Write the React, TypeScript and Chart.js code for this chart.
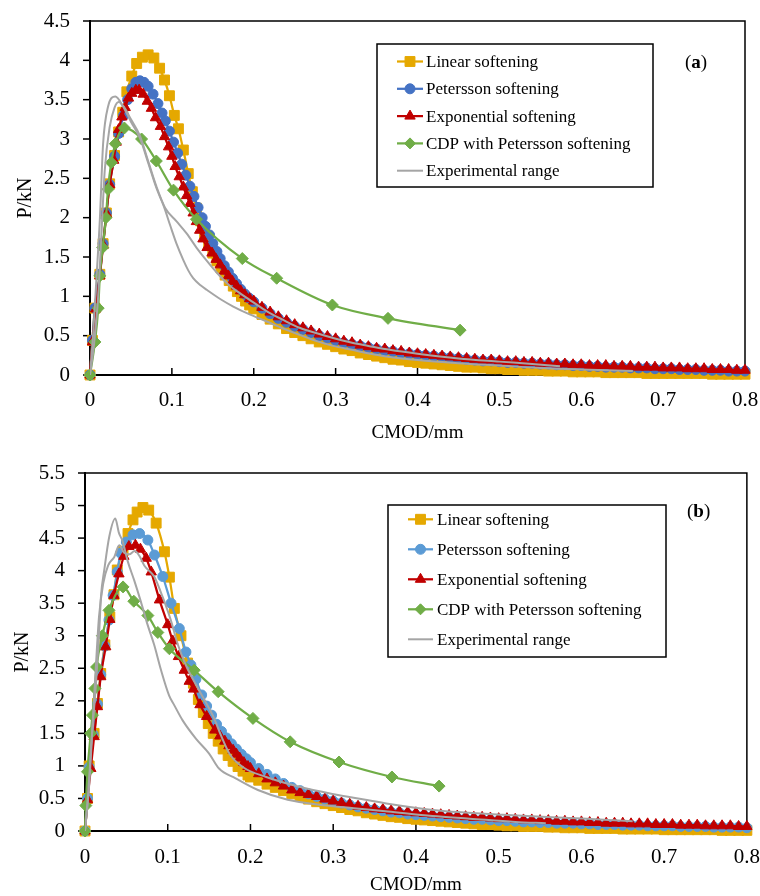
import React, { useEffect, useRef } from "react";
import { Chart, registerables } from "chart.js";

Chart.register(...registerables);

const FONT = '"Liberation Serif", "Times New Roman", serif';

const LABELS = [
  "Linear softening",
  "Petersson softening",
  "Exponential softening",
  "CDP with Petersson softening",
  "Experimental range",
];

const X_TICKS_MAX = 0.8;

// Shared CMOD values for the long tail of the FE curves (mm)
const TAIL_CMOD = [
  0.20, 0.21, 0.22, 0.23, 0.24, 0.25, 0.26, 0.27, 0.28, 0.29,
  0.30, 0.31, 0.32, 0.33, 0.34, 0.35, 0.36, 0.37, 0.38, 0.39,
  0.40, 0.41, 0.42, 0.43, 0.44, 0.45, 0.46, 0.47, 0.48, 0.49,
  0.50, 0.51, 0.52, 0.53, 0.54, 0.55, 0.56, 0.57, 0.58, 0.59,
  0.60, 0.61, 0.62, 0.63, 0.64, 0.65, 0.66, 0.67, 0.68, 0.69,
  0.70, 0.71, 0.72, 0.73, 0.74, 0.75, 0.76, 0.77, 0.78, 0.79,
  0.80,
];

// ---------------- Panel (a) ----------------
const A_LIN_CMOD = [0, 0.003, 0.006, 0.012, 0.016, 0.020, 0.024, 0.030, 0.035, 0.040, 0.045, 0.051, 0.057, 0.064, 0.071, 0.078, 0.085, 0.091, 0.097, 0.103, 0.108, 0.114, 0.120, 0.125, 0.130, 0.135, 0.140, 0.145, 0.150, 0.155, 0.160, 0.165, 0.170, 0.175, 0.180, 0.185, 0.190, 0.195];
const A_LIN_P = [0, 0.44, 0.85, 1.28, 1.67, 2.06, 2.43, 2.79, 3.09, 3.34, 3.60, 3.80, 3.96, 4.04, 4.07, 4.03, 3.90, 3.75, 3.55, 3.30, 3.13, 2.86, 2.56, 2.33, 2.12, 1.96, 1.80, 1.66, 1.55, 1.45, 1.36, 1.27, 1.20, 1.13, 1.06, 1.00, 0.94, 0.89];
const A_LIN_TAIL = [0.84, 0.77, 0.71, 0.65, 0.59, 0.54, 0.50, 0.46, 0.42, 0.39, 0.36, 0.33, 0.31, 0.28, 0.26, 0.24, 0.22, 0.20, 0.19, 0.17, 0.16, 0.15, 0.14, 0.13, 0.12, 0.11, 0.10, 0.10, 0.09, 0.08, 0.08, 0.07, 0.07, 0.06, 0.06, 0.06, 0.05, 0.05, 0.05, 0.04, 0.04, 0.04, 0.04, 0.03, 0.03, 0.03, 0.03, 0.03, 0.02, 0.02, 0.02, 0.02, 0.02, 0.02, 0.02, 0.02, 0.01, 0.01, 0.01, 0.01, 0.01];

const A_PET_CMOD = [0, 0.003, 0.006, 0.012, 0.016, 0.020, 0.024, 0.030, 0.035, 0.041, 0.046, 0.051, 0.056, 0.061, 0.066, 0.071, 0.077, 0.083, 0.088, 0.092, 0.097, 0.102, 0.107, 0.112, 0.117, 0.122, 0.127, 0.132, 0.137, 0.141, 0.146, 0.150, 0.155, 0.159, 0.164, 0.169, 0.174, 0.179, 0.184, 0.189, 0.194];
const A_PET_P = [0, 0.44, 0.85, 1.28, 1.67, 2.06, 2.42, 2.78, 3.07, 3.30, 3.50, 3.64, 3.72, 3.74, 3.72, 3.67, 3.57, 3.45, 3.33, 3.23, 3.10, 2.96, 2.82, 2.68, 2.54, 2.40, 2.27, 2.13, 2.00, 1.89, 1.78, 1.67, 1.57, 1.48, 1.39, 1.31, 1.23, 1.16, 1.09, 1.03, 0.98];
const A_PET_TAIL = [0.93, 0.85, 0.78, 0.72, 0.67, 0.62, 0.58, 0.54, 0.50, 0.47, 0.44, 0.41, 0.39, 0.37, 0.35, 0.33, 0.31, 0.30, 0.28, 0.27, 0.26, 0.25, 0.24, 0.23, 0.22, 0.21, 0.20, 0.19, 0.18, 0.18, 0.17, 0.16, 0.16, 0.15, 0.15, 0.14, 0.14, 0.13, 0.13, 0.12, 0.12, 0.11, 0.11, 0.10, 0.10, 0.10, 0.09, 0.09, 0.09, 0.08, 0.08, 0.08, 0.07, 0.07, 0.07, 0.06, 0.06, 0.06, 0.05, 0.05, 0.05];

const A_EXP_CMOD = [0, 0.003, 0.007, 0.012, 0.016, 0.020, 0.024, 0.029, 0.032, 0.035, 0.039, 0.043, 0.047, 0.051, 0.056, 0.060, 0.065, 0.070, 0.075, 0.080, 0.086, 0.091, 0.096, 0.100, 0.104, 0.109, 0.114, 0.118, 0.122, 0.126, 0.130, 0.134, 0.138, 0.143, 0.149, 0.154, 0.159, 0.164, 0.169, 0.174, 0.179, 0.184, 0.189, 0.195];
const A_EXP_P = [0, 0.42, 0.84, 1.26, 1.65, 2.05, 2.42, 2.73, 2.96, 3.12, 3.28, 3.40, 3.52, 3.58, 3.62, 3.62, 3.57, 3.48, 3.39, 3.27, 3.16, 3.03, 2.90, 2.78, 2.65, 2.52, 2.39, 2.28, 2.18, 2.06, 1.95, 1.84, 1.73, 1.62, 1.55, 1.47, 1.40, 1.32, 1.26, 1.19, 1.13, 1.07, 1.02, 0.97];
const A_EXP_TAIL = [0.94, 0.86, 0.80, 0.74, 0.69, 0.64, 0.60, 0.56, 0.52, 0.49, 0.46, 0.43, 0.41, 0.38, 0.36, 0.34, 0.33, 0.31, 0.30, 0.28, 0.27, 0.26, 0.25, 0.24, 0.23, 0.22, 0.21, 0.20, 0.19, 0.19, 0.18, 0.17, 0.17, 0.16, 0.16, 0.15, 0.15, 0.14, 0.14, 0.13, 0.13, 0.12, 0.12, 0.12, 0.11, 0.11, 0.11, 0.10, 0.10, 0.10, 0.09, 0.09, 0.09, 0.08, 0.08, 0.08, 0.07, 0.07, 0.07, 0.06, 0.06];

const A_CDP_CMOD = [0, 0.006, 0.010, 0.012, 0.0155, 0.0195, 0.022, 0.026, 0.031, 0.042, 0.063, 0.081, 0.102, 0.130, 0.186, 0.228, 0.296, 0.364, 0.452];
const A_CDP_P = [0, 0.42, 0.85, 1.26, 1.62, 2.00, 2.36, 2.70, 2.94, 3.14, 3.00, 2.72, 2.35, 1.98, 1.48, 1.23, 0.89, 0.72, 0.57];

const A_TEST1_CMOD = [0, 0.004, 0.008, 0.012, 0.016, 0.022, 0.031, 0.040, 0.050, 0.061, 0.071, 0.081, 0.090, 0.098, 0.106, 0.114, 0.120, 0.126, 0.135, 0.143, 0.160, 0.175, 0.195, 0.216, 0.236, 0.256, 0.277, 0.297, 0.320, 0.338, 0.366, 0.400, 0.450, 0.500, 0.550, 0.600, 0.663];
const A_TEST1_P = [0, 0.55, 1.25, 1.97, 2.94, 3.41, 3.54, 3.42, 3.22, 3.01, 2.70, 2.38, 2.15, 1.90, 1.66, 1.46, 1.33, 1.23, 1.14, 1.08, 0.96, 0.87, 0.77, 0.68, 0.59, 0.51, 0.43, 0.37, 0.32, 0.28, 0.23, 0.19, 0.15, 0.12, 0.09, 0.07, 0.05];

const A_TEST2_CMOD = [0, 0.005, 0.010, 0.014, 0.018, 0.024, 0.030, 0.035, 0.042, 0.050, 0.061, 0.071, 0.081, 0.092, 0.106, 0.118, 0.130, 0.142, 0.155, 0.170, 0.183, 0.200, 0.216, 0.236, 0.256, 0.277, 0.297, 0.320, 0.340, 0.366, 0.400, 0.450, 0.500, 0.540, 0.574];
const A_TEST2_P = [0, 0.40, 1.00, 1.80, 2.60, 3.15, 3.40, 3.47, 3.40, 3.25, 3.04, 2.72, 2.40, 2.12, 1.95, 1.80, 1.62, 1.46, 1.30, 1.14, 1.04, 0.92, 0.81, 0.70, 0.60, 0.53, 0.47, 0.41, 0.37, 0.32, 0.27, 0.21, 0.17, 0.14, 0.11];

// ---------------- Panel (b) ----------------
const B_LIN_CMOD = [0, 0.003, 0.005, 0.011, 0.015, 0.019, 0.024, 0.030, 0.035, 0.039, 0.046, 0.052, 0.058, 0.063, 0.070, 0.077, 0.086, 0.096, 0.102, 0.108, 0.116, 0.124, 0.131, 0.137, 0.143, 0.149, 0.155, 0.161, 0.167, 0.173, 0.179, 0.185, 0.191, 0.197];
const B_LIN_P = [0, 0.50, 1.00, 1.50, 1.96, 2.42, 2.86, 3.29, 3.63, 4.01, 4.30, 4.57, 4.78, 4.90, 4.97, 4.93, 4.73, 4.29, 3.90, 3.42, 3.00, 2.58, 2.27, 2.02, 1.82, 1.65, 1.50, 1.38, 1.26, 1.16, 1.07, 0.99, 0.92, 0.86];
const B_LIN_TAIL = [0.83, 0.78, 0.72, 0.67, 0.62, 0.57, 0.53, 0.49, 0.45, 0.42, 0.39, 0.36, 0.33, 0.31, 0.28, 0.26, 0.24, 0.22, 0.21, 0.19, 0.18, 0.17, 0.16, 0.15, 0.14, 0.13, 0.12, 0.11, 0.10, 0.10, 0.09, 0.08, 0.08, 0.07, 0.07, 0.07, 0.06, 0.06, 0.05, 0.05, 0.05, 0.04, 0.04, 0.04, 0.04, 0.03, 0.03, 0.03, 0.03, 0.03, 0.02, 0.02, 0.02, 0.02, 0.02, 0.02, 0.02, 0.01, 0.01, 0.01, 0.01];

const B_PET_CMOD = [0, 0.003, 0.005, 0.010, 0.015, 0.019, 0.024, 0.029, 0.034, 0.039, 0.043, 0.050, 0.058, 0.066, 0.076, 0.084, 0.094, 0.104, 0.114, 0.122, 0.128, 0.134, 0.141, 0.147, 0.153, 0.159, 0.165, 0.171, 0.177, 0.183, 0.189, 0.195];
const B_PET_P = [0, 0.50, 0.98, 1.48, 1.95, 2.40, 2.84, 3.24, 3.62, 3.98, 4.27, 4.44, 4.55, 4.57, 4.47, 4.24, 3.91, 3.50, 3.11, 2.75, 2.55, 2.33, 2.09, 1.92, 1.78, 1.64, 1.53, 1.43, 1.34, 1.26, 1.18, 1.11];
const B_PET_TAIL = [1.05, 0.96, 0.87, 0.80, 0.73, 0.67, 0.62, 0.57, 0.53, 0.49, 0.46, 0.43, 0.40, 0.37, 0.35, 0.33, 0.31, 0.29, 0.28, 0.26, 0.25, 0.24, 0.23, 0.22, 0.21, 0.20, 0.19, 0.18, 0.18, 0.17, 0.16, 0.16, 0.15, 0.14, 0.14, 0.13, 0.13, 0.12, 0.12, 0.12, 0.11, 0.11, 0.10, 0.10, 0.10, 0.09, 0.09, 0.09, 0.08, 0.08, 0.08, 0.08, 0.07, 0.07, 0.07, 0.07, 0.06, 0.06, 0.06, 0.06, 0.05];

const B_EXP_CMOD = [0, 0.003, 0.007, 0.011, 0.015, 0.019, 0.025, 0.030, 0.035, 0.041, 0.047, 0.053, 0.061, 0.067, 0.074, 0.080, 0.090, 0.100, 0.106, 0.113, 0.120, 0.126, 0.131, 0.139, 0.147, 0.157, 0.163, 0.169, 0.174, 0.179, 0.183, 0.187, 0.192, 0.197];
const B_EXP_P = [0, 0.48, 0.96, 1.45, 1.91, 2.37, 2.83, 3.25, 3.62, 3.95, 4.22, 4.37, 4.39, 4.33, 4.19, 3.98, 3.55, 3.17, 2.92, 2.68, 2.47, 2.30, 2.18, 1.94, 1.76, 1.55, 1.46, 1.38, 1.31, 1.24, 1.18, 1.12, 1.05, 0.99];
const B_EXP_TAIL = [0.96, 0.88, 0.80, 0.74, 0.69, 0.63, 0.59, 0.56, 0.53, 0.49, 0.46, 0.43, 0.41, 0.38, 0.36, 0.34, 0.33, 0.31, 0.30, 0.29, 0.28, 0.27, 0.26, 0.25, 0.24, 0.23, 0.22, 0.21, 0.21, 0.20, 0.19, 0.19, 0.18, 0.17, 0.17, 0.16, 0.16, 0.15, 0.15, 0.14, 0.14, 0.13, 0.13, 0.12, 0.12, 0.12, 0.11, 0.11, 0.11, 0.10, 0.10, 0.10, 0.09, 0.09, 0.09, 0.08, 0.08, 0.08, 0.08, 0.07, 0.07];

const B_CDP_CMOD = [0, 0.001, 0.003, 0.007, 0.009, 0.012, 0.014, 0.021, 0.029, 0.046, 0.059, 0.076, 0.088, 0.102, 0.132, 0.161, 0.203, 0.248, 0.307, 0.371, 0.428];
const B_CDP_P = [0, 0.39, 0.91, 1.50, 1.78, 2.19, 2.52, 3.00, 3.39, 3.75, 3.53, 3.31, 3.05, 2.80, 2.47, 2.14, 1.73, 1.37, 1.06, 0.83, 0.69];

const B_TEST1_CMOD = [0, 0.004, 0.008, 0.0133, 0.0153, 0.0173, 0.0193, 0.0233, 0.0293, 0.0366, 0.041, 0.0455, 0.0515, 0.0595, 0.0676, 0.0756, 0.0836, 0.0917, 0.1017, 0.108, 0.118, 0.134, 0.150, 0.162, 0.182, 0.209, 0.245, 0.286, 0.325, 0.366, 0.420, 0.465, 0.520, 0.557];
const B_TEST1_P = [0, 0.60, 1.40, 2.27, 2.68, 3.09, 3.60, 4.01, 4.52, 4.80, 4.58, 4.45, 4.15, 3.85, 3.52, 3.17, 2.86, 2.48, 2.08, 1.93, 1.70, 1.42, 1.19, 0.96, 0.81, 0.63, 0.48, 0.40, 0.35, 0.30, 0.23, 0.19, 0.14, 0.12];

const B_TEST2_CMOD = [0, 0.005, 0.009, 0.013, 0.017, 0.022, 0.028, 0.0354, 0.0414, 0.047, 0.0535, 0.060, 0.066, 0.0716, 0.0836, 0.0937, 0.1037, 0.1118, 0.1218, 0.134, 0.145, 0.155, 0.165, 0.175, 0.191, 0.219, 0.259, 0.299, 0.339, 0.366, 0.424, 0.505, 0.585, 0.633, 0.662];
const B_TEST2_P = [0, 0.70, 1.60, 2.50, 3.30, 3.80, 4.08, 4.21, 4.39, 4.28, 4.25, 4.30, 4.22, 4.08, 3.91, 3.60, 3.24, 2.88, 2.55, 2.25, 2.00, 1.76, 1.45, 1.18, 0.98, 0.83, 0.68, 0.57, 0.48, 0.42, 0.32, 0.25, 0.20, 0.17, 0.15];

// ---------------- Styling ----------------
const YELLOW = "#E5A800";
const RED = "#C00000";
const GREEN = "#70AD47";
const GRAY = "#A5A5A5";

type Pts = { x: number; y: number }[];
const pts = (xs: number[], ys: number[]): Pts => xs.map((x, i) => ({ x, y: ys[i] }));

type Series = {
  lin: Pts; pet: Pts; exp: Pts; cdp: Pts; t1: Pts; t2: Pts;
};

const SERIES_A: Series = {
  lin: [...pts(A_LIN_CMOD, A_LIN_P), ...pts(TAIL_CMOD, A_LIN_TAIL)],
  pet: [...pts(A_PET_CMOD, A_PET_P), ...pts(TAIL_CMOD, A_PET_TAIL)],
  exp: [...pts(A_EXP_CMOD, A_EXP_P), ...pts(TAIL_CMOD, A_EXP_TAIL)],
  cdp: pts(A_CDP_CMOD, A_CDP_P),
  t1: pts(A_TEST1_CMOD, A_TEST1_P),
  t2: pts(A_TEST2_CMOD, A_TEST2_P),
};
const SERIES_B: Series = {
  lin: [...pts(B_LIN_CMOD, B_LIN_P), ...pts(TAIL_CMOD, B_LIN_TAIL)],
  pet: [...pts(B_PET_CMOD, B_PET_P), ...pts(TAIL_CMOD, B_PET_TAIL)],
  exp: [...pts(B_EXP_CMOD, B_EXP_P), ...pts(TAIL_CMOD, B_EXP_TAIL)],
  cdp: pts(B_CDP_CMOD, B_CDP_P),
  t1: pts(B_TEST1_CMOD, B_TEST1_P),
  t2: pts(B_TEST2_CMOD, B_TEST2_P),
};

type PanelCfg = {
  tag: string;
  yMax: number;
  padTop: number;
  padRight: number;
  yAxisW: number;
  xAxisH: number;
  xTickGap: number;
  xTitlePadBottom: number;
  yTitlePadTop: number;
  petColor: string;
  legend: { x: number; y: number; w: number; h: number; row0: number; rowStep: number; lineX0: number; lineX1: number; textX: number };
  tagX: number;
  tagY: number;
};

const PANEL_A: PanelCfg = {
  tag: "a", yMax: 4.5, padTop: 21, padRight: 15, yAxisW: 90, xAxisH: 73,
  xTickGap: 13, xTitlePadBottom: 4, yTitlePadTop: 14, petColor: "#4472C4",
  legend: { x: 377, y: 44, w: 276, h: 143, row0: 61.5, rowStep: 27.3, lineX0: 397, lineX1: 423, textX: 426 },
  tagX: 685, tagY: 63,
};
const PANEL_B: PanelCfg = {
  tag: "b", yMax: 5.5, padTop: 25, padRight: 13, yAxisW: 85, xAxisH: 65,
  xTickGap: 14, xTitlePadBottom: 0, yTitlePadTop: 10.5, petColor: "#5B9BD5",
  legend: { x: 388, y: 57, w: 278, h: 152, row0: 71.3, rowStep: 30, lineX0: 408, lineX1: 433, textX: 437 },
  tagX: 687, tagY: 64,
};

function drawMarker(ctx: CanvasRenderingContext2D, style: string, x: number, y: number, r: number, color: string) {
  ctx.save();
  ctx.fillStyle = color;
  ctx.strokeStyle = color;
  ctx.lineWidth = 1;
  ctx.beginPath();
  if (style === "rect") {
    const s = r * Math.SQRT1_2;
    ctx.rect(x - s, y - s, 2 * s, 2 * s);
  } else if (style === "circle") {
    ctx.arc(x, y, r, 0, Math.PI * 2);
  } else if (style === "triangle") {
    ctx.moveTo(x, y - r);
    ctx.lineTo(x + r * Math.cos(Math.PI / 6), y + r / 2);
    ctx.lineTo(x - r * Math.cos(Math.PI / 6), y + r / 2);
    ctx.closePath();
  } else if (style === "rectRot") {
    ctx.moveTo(x - r, y);
    ctx.lineTo(x, y - r);
    ctx.lineTo(x + r, y);
    ctx.lineTo(x, y + r);
    ctx.closePath();
  }
  ctx.fill();
  ctx.stroke();
  ctx.restore();
}

const framePlugin = {
  id: "frame",
  beforeDatasetsDraw(chart: any) {
    const { ctx, chartArea } = chart;
    const { left, right, top, bottom } = chartArea;
    ctx.save();
    ctx.strokeStyle = "#000";
    ctx.lineWidth = 1.5;
    ctx.beginPath();
    ctx.moveTo(left, top);
    ctx.lineTo(right, top);
    ctx.lineTo(right, bottom);
    ctx.stroke();
    ctx.lineWidth = 2;
    ctx.beginPath();
    ctx.moveTo(left, top - 1);
    ctx.lineTo(left, bottom);
    ctx.lineTo(right, bottom);
    ctx.stroke();
    ctx.lineWidth = 1.5;
    const ys = chart.scales.y;
    ys.ticks.forEach((t: any) => {
      const py = ys.getPixelForValue(t.value);
      ctx.beginPath();
      ctx.moveTo(left - 7, py);
      ctx.lineTo(left, py);
      ctx.stroke();
    });
    const xs = chart.scales.x;
    xs.ticks.forEach((t: any) => {
      const px = xs.getPixelForValue(t.value);
      ctx.beginPath();
      ctx.moveTo(px, bottom);
      ctx.lineTo(px, bottom - 7);
      ctx.stroke();
    });
    ctx.restore();
  },
  afterDraw(chart: any, _args: any, opts: any) {
    const cfg: PanelCfg = opts.cfg;
    const { ctx } = chart;
    const L = cfg.legend;
    ctx.save();
    ctx.fillStyle = "#fff";
    ctx.fillRect(L.x, L.y, L.w, L.h);
    ctx.strokeStyle = "#000";
    ctx.lineWidth = 1.5;
    ctx.strokeRect(L.x, L.y, L.w, L.h);
    const entries = chart.data.datasets.filter((d: any) => d.inLegend);
    entries.forEach((d: any, i: number) => {
      const y = L.row0 + i * L.rowStep;
      ctx.strokeStyle = d.borderColor;
      ctx.lineWidth = d.borderWidth;
      ctx.beginPath();
      ctx.moveTo(L.lineX0, y);
      ctx.lineTo(L.lineX1, y);
      ctx.stroke();
      if (d.pointRadius > 0) {
        drawMarker(ctx, d.pointStyle, (L.lineX0 + L.lineX1) / 2, y, d.legendRadius, d.borderColor);
      }
      ctx.fillStyle = "#000";
      ctx.font = `17px ${FONT}`;
      ctx.textBaseline = "middle";
      ctx.textAlign = "left";
      ctx.fillText(d.label, L.textX, y + 1);
    });
    // panel tag "(a)" with bold letter
    ctx.fillStyle = "#000";
    ctx.textBaseline = "middle";
    ctx.textAlign = "left";
    let x = cfg.tagX;
    ctx.font = `19px ${FONT}`;
    ctx.fillText("(", x, cfg.tagY);
    x += ctx.measureText("(").width;
    ctx.font = `bold 19px ${FONT}`;
    ctx.fillText(cfg.tag, x, cfg.tagY);
    x += ctx.measureText(cfg.tag).width;
    ctx.font = `19px ${FONT}`;
    ctx.fillText(")", x, cfg.tagY);
    ctx.restore();
  },
};

function makeDatasets(s: Series, cfg: PanelCfg) {
  const common = { borderWidth: 2.25, pointBorderWidth: 1, clip: false as any, inLegend: true };
  return [
    { ...common, label: LABELS[0], data: s.lin, borderColor: YELLOW, backgroundColor: YELLOW, pointBackgroundColor: YELLOW, pointBorderColor: YELLOW, pointStyle: "rect", pointRadius: 7, legendRadius: 7, order: 5 },
    { ...common, label: LABELS[1], data: s.pet, borderColor: cfg.petColor, backgroundColor: cfg.petColor, pointBackgroundColor: cfg.petColor, pointBorderColor: cfg.petColor, pointStyle: "circle", pointRadius: 5, legendRadius: 5, order: 4 },
    { ...common, label: LABELS[2], data: s.exp, borderColor: RED, backgroundColor: RED, pointBackgroundColor: RED, pointBorderColor: RED, pointStyle: "triangle", pointRadius: 6, legendRadius: 6, order: 3 },
    { ...common, label: LABELS[3], data: s.cdp, borderColor: GREEN, backgroundColor: GREEN, pointBackgroundColor: GREEN, pointBorderColor: GREEN, pointStyle: "rectRot", pointRadius: 6, legendRadius: 5.5, order: 2 },
    { label: LABELS[4], data: s.t1, borderColor: GRAY, backgroundColor: GRAY, borderWidth: 2, pointRadius: 0, order: 1, inLegend: true },
    { label: LABELS[4], data: s.t2, borderColor: GRAY, backgroundColor: GRAY, borderWidth: 2, pointRadius: 0, order: 1, inLegend: false },
  ];
}

const fmt = (v: any) => String(Math.round(Number(v) * 10) / 10);

function Panel({ series, cfg }: { series: Series; cfg: PanelCfg }) {
  const ref = useRef<HTMLCanvasElement>(null);
  useEffect(() => {
    if (!ref.current) return;
    const tickFont = { family: FONT, size: 21 };
    const chart = new Chart(ref.current, {
      type: "line",
      data: { datasets: makeDatasets(series, cfg) as any },
      options: {
        responsive: false,
        maintainAspectRatio: false,
        animation: false,
        layout: { padding: { left: 0, top: cfg.padTop, right: cfg.padRight, bottom: 0 } },
        elements: { line: { cubicInterpolationMode: "monotone", tension: 0.4 } },
        plugins: {
          legend: { display: false },
          tooltip: { enabled: false },
          frame: { cfg },
        } as any,
        scales: {
          x: {
            type: "linear",
            min: 0,
            max: X_TICKS_MAX,
            afterFit: (sc: any) => { sc.height = cfg.xAxisH; },
            grid: { display: false, drawTicks: true, tickLength: cfg.xTickGap },
            border: { display: false },
            ticks: { stepSize: 0.1, padding: 0, font: tickFont, color: "#000", callback: fmt, maxRotation: 0, autoSkip: false },
            title: { display: true, text: "CMOD/mm", color: "#000", font: { family: FONT, size: 19 }, padding: { top: 0, bottom: cfg.xTitlePadBottom } },
          },
          y: {
            type: "linear",
            min: 0,
            max: cfg.yMax,
            afterFit: (sc: any) => { sc.width = cfg.yAxisW; },
            grid: { display: false, drawTicks: true, tickLength: 20 },
            border: { display: false },
            ticks: { stepSize: 0.5, padding: 0, font: tickFont, color: "#000", callback: fmt, autoSkip: false },
            title: { display: true, text: "P/kN", color: "#000", font: { family: FONT, size: 20 }, padding: { top: cfg.yTitlePadTop, bottom: 0 } },
          },
        },
      },
      plugins: [framePlugin as any],
    });
    return () => chart.destroy();
  }, [series, cfg]);
  return <canvas ref={ref} width={760} height={448} style={{ display: "block", width: 760, height: 448 }} />;
}

export default function App() {
  return (
    <div style={{ position: "absolute", left: 0, top: 0, width: 760, height: 896, background: "#fff", overflow: "hidden" }}>
      <Panel series={SERIES_A} cfg={PANEL_A} />
      <Panel series={SERIES_B} cfg={PANEL_B} />
    </div>
  );
}
